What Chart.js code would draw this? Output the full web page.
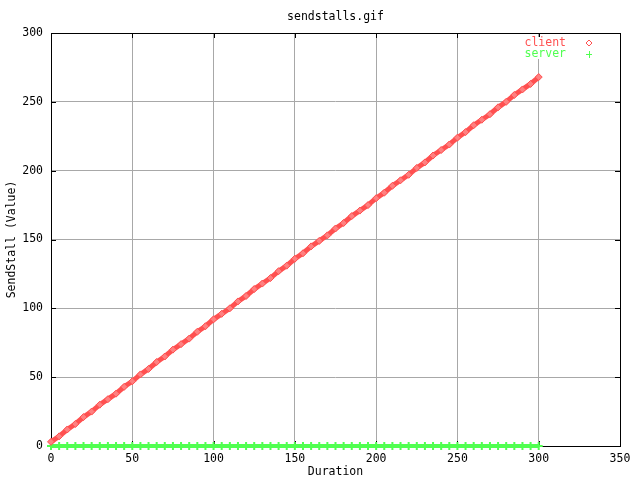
<!DOCTYPE html>
<html lang="en">
  <head>
    <meta charset="UTF-8" />
    <title>sendstalls.gif</title>
    <style>
      body {
        margin: 0;
        background-color: #ffffff;
      }
    </style>
    <script src="https://cdn.jsdelivr.net/npm/chart.js"></script>
  </head>
  <body>
    <canvas id="myChart" width="640" height="480"></canvas>
    <script>
      // duration (seconds), sampled every 5
      const durations = [
        0, 5, 10, 15, 20, 25, 30, 35, 40, 45, 50, 55, 60, 65, 70, 75, 80, 85, 90, 95,
        100, 105, 110, 115, 120, 125, 130, 135, 140, 145, 150, 155, 160, 165, 170, 175,
        180, 185, 190, 195, 200, 205, 210, 215, 220, 225, 230, 235, 240, 245, 250, 255,
        260, 265, 270, 275, 280, 285, 290, 295, 300
      ];
      const clientStalls = [
        3, 7, 12, 16, 21, 25, 30, 34, 38, 43, 47, 52, 56, 61, 65, 70, 74, 78, 83, 87,
        92, 96, 100, 105, 109, 114, 118, 122, 127, 131, 136, 140, 145, 149, 153, 158,
        162, 167, 171, 175, 180, 184, 189, 193, 197, 202, 206, 211, 215, 219, 224, 228,
        233, 237, 241, 246, 250, 255, 259, 263, 268
      ];
      const serverStalls = [
        0, 0, 0, 0, 0, 0, 0, 0, 0, 0, 0, 0, 0, 0, 0, 0, 0, 0, 0, 0,
        0, 0, 0, 0, 0, 0, 0, 0, 0, 0, 0, 0, 0, 0, 0, 0, 0, 0, 0, 0,
        0, 0, 0, 0, 0, 0, 0, 0, 0, 0, 0, 0, 0, 0, 0, 0, 0, 0, 0, 0, 0
      ];
      const xTicks = [0, 50, 100, 150, 200, 250, 300, 350];
      const yTicks = [0, 50, 100, 150, 200, 250, 300];

      const RED = "#ff5050";
      const GREEN = "#50ff50";
      const GRID = "#a8a8a8";
      const FONT = { family: "'DejaVu Sans Mono', monospace", size: 11.5 };

      const toPoints = (ys) => durations.map((x, i) => ({ x: x, y: ys[i] }));

      // gnuplot look: black frame, inward ticks, title, key inside
      const gnuFrame = {
        id: "gnuFrame",
        beforeDatasetsDraw(chart) {
          const { ctx, chartArea: a, scales } = chart;
          ctx.save();
          ctx.strokeStyle = "#000";
          ctx.lineWidth = 1;
          ctx.beginPath();
          xTicks.forEach((v) => {
            const px = Math.round(scales.x.getPixelForValue(v)) + 0.5;
            ctx.moveTo(px, a.bottom); ctx.lineTo(px, a.bottom - 5);
            ctx.moveTo(px, a.top); ctx.lineTo(px, a.top + 5);
          });
          yTicks.forEach((v) => {
            const py = Math.round(scales.y.getPixelForValue(v)) + 0.5;
            ctx.moveTo(a.left, py); ctx.lineTo(a.left + 5, py);
            ctx.moveTo(a.right, py); ctx.lineTo(a.right - 5, py);
          });
          ctx.stroke();
          ctx.strokeRect(a.left + 0.5, a.top + 0.5, a.right - a.left, a.bottom - a.top);
          // key background hides the grid under it
          ctx.fillStyle = "#fff";
          ctx.fillRect(a.right - 100, a.top + 4, 80, 22);
          ctx.restore();
        },
        afterDraw(chart) {
          const { ctx, chartArea: a } = chart;
          ctx.save();
          ctx.font = FONT.size + "px " + FONT.family;
          ctx.textBaseline = "middle";
          ctx.fillStyle = "#000";
          ctx.textAlign = "center";
          ctx.fillText("sendstalls.gif", (a.left + a.right) / 2, 17);
          ctx.textAlign = "right";
          ctx.fillStyle = RED;
          ctx.fillText("client", a.right - 54, a.top + 10);
          ctx.fillStyle = GREEN;
          ctx.fillText("server", a.right - 54, a.top + 21);
          // key markers
          const mx = a.right - 31;
          ctx.lineWidth = 1;
          ctx.strokeStyle = RED;
          ctx.beginPath();
          ctx.moveTo(mx, a.top + 7); ctx.lineTo(mx + 3, a.top + 10);
          ctx.lineTo(mx, a.top + 13); ctx.lineTo(mx - 3, a.top + 10);
          ctx.closePath();
          ctx.stroke();
          ctx.strokeStyle = GREEN;
          ctx.beginPath();
          ctx.moveTo(mx - 3, a.top + 21.5); ctx.lineTo(mx + 3, a.top + 21.5);
          ctx.moveTo(mx + 0.5, a.top + 18); ctx.lineTo(mx + 0.5, a.top + 25);
          ctx.stroke();
          ctx.restore();
        }
      };

      const config = {
        type: "line",
        data: {
          datasets: [
            {
              label: "client",
              data: toPoints(clientStalls),
              borderColor: RED,
              borderWidth: 5,
              pointStyle: "rectRot",
              pointRadius: 3.5,
              pointBorderWidth: 1,
              pointBorderColor: RED,
              pointBackgroundColor: "#ff8080",
              clip: false
            },
            {
              label: "server",
              data: toPoints(serverStalls),
              borderColor: GREEN,
              borderWidth: 4,
              pointStyle: "cross",
              pointRadius: 4,
              pointBorderWidth: 2,
              pointBorderColor: GREEN,
              clip: false
            }
          ]
        },
        options: {
          responsive: false,
          animation: false,
          layout: { padding: { top: 33, right: 20, left: 0, bottom: 0 } },
          plugins: {
            legend: { display: false },
            title: { display: false },
            tooltip: { enabled: false }
          },
          scales: {
            x: {
              type: "linear",
              min: 0,
              max: 350,
              afterFit: (s) => { s.height = 34; },
              afterBuildTicks: (s) => { s.ticks = xTicks.map((v) => ({ value: v })); },
              grid: { color: GRID, drawTicks: false },
              border: { display: false },
              ticks: { color: "#000", font: FONT, padding: 6, maxRotation: 0 },
              title: { display: true, text: "Duration", color: "#000", font: FONT, padding: { top: 0, bottom: 1 } }
            },
            y: {
              type: "linear",
              min: 0,
              max: 300,
              afterFit: (s) => { s.width = 51; },
              afterBuildTicks: (s) => { s.ticks = yTicks.map((v) => ({ value: v })); },
              grid: { color: GRID, drawTicks: false },
              border: { display: false },
              ticks: { color: "#000", font: FONT, padding: 8 },
              title: { display: true, text: "SendStall (Value)", color: "#000", font: FONT, padding: { top: 5, bottom: 0 } }
            }
          }
        },
        plugins: [gnuFrame]
      };
      const myChart = new Chart(document.getElementById("myChart"), config);
    </script>
  </body>
</html>
